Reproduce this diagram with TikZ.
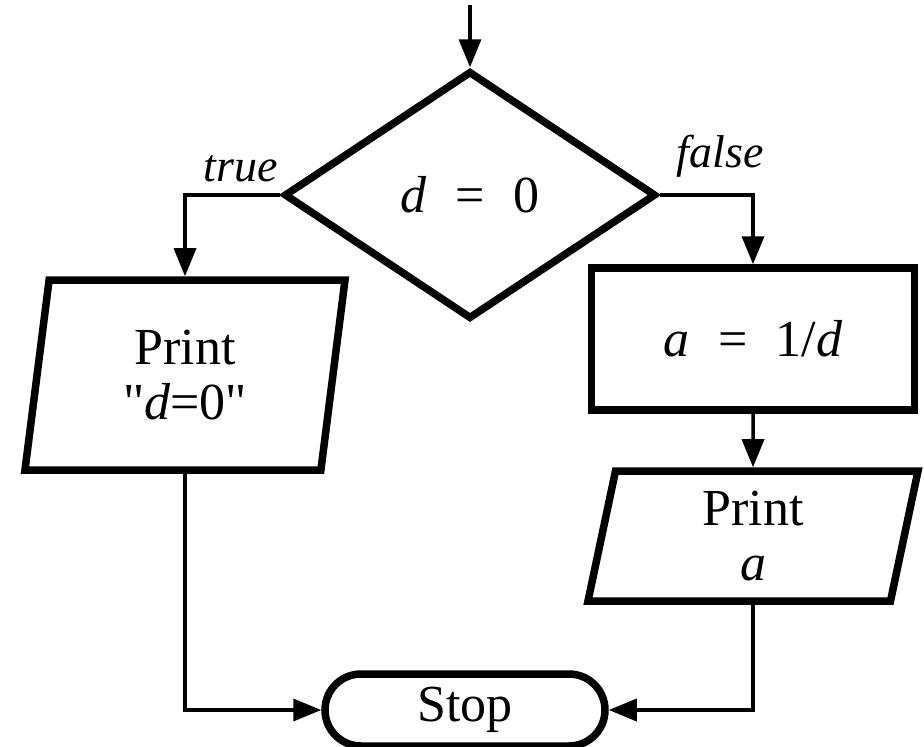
\documentclass[tikz,border=0pt]{standalone}
\usepackage{fontspec}
\setmainfont{Liberation Serif}[Ligatures=TeXOff]
\usetikzlibrary{shapes.geometric,shapes.misc,arrows.meta}
\newcommand{\wideeq}{\hspace{0.55em}=\hspace{0.55em}}
\begin{document}
\begin{tikzpicture}[x=1pt,y=-1pt,
        box/.style={draw,line width=7.5pt,inner sep=0pt,font=\fontsize{52}{55}\selectfont,align=center},
        iobox/.style={box,trapezium,trapezium left angle=#1,trapezium right angle=180-#1,trapezium stretches body},
        flow/.style={line width=3.5pt,-{Triangle[length=28pt,width=22pt]}},
        tag/.style={font=\fontsize{46}{50}\selectfont\itshape,anchor=base}]
    \useasboundingbox (0,0) rectangle (924,747);
    \node[box,diamond,minimum width=372pt,minimum height=248pt] (dec) at (470,195) {\textit{d}\wideeq0};
    \node[iobox=75,minimum width=320pt,minimum height=190pt] (prtd) at (185,375) {Print\\"\textit{d}=0"};
    \node[box,rectangle,minimum width=323pt,minimum height=142pt] (asg) at (753,339) {\textit{a}\wideeq1/\textit{d}};
    \node[iobox=73,minimum width=330pt,minimum height=130pt] (prta) at (753,536) {Print\\\textit{a}};
    \node[box,rounded rectangle,minimum width=280pt,minimum height=72pt] (stop) at (465,710) {Stop};
    \node[tag] (yes) at (241,181) {true};
    \node[tag] (no) at (720,167) {false};
    \coordinate (in) at (470,5);
    \draw[flow] (in) -- (dec.north);
    \draw[flow] (dec.west) -| (prtd.north);
    \draw[flow] (dec.east) -| (asg.north);
    \draw[flow] (asg.south) -- (prta.north);
    \draw[flow] (prtd.south) |- (stop.west);
    \draw[flow] (prta.south) |- (stop.east);
\end{tikzpicture}
\end{document}
